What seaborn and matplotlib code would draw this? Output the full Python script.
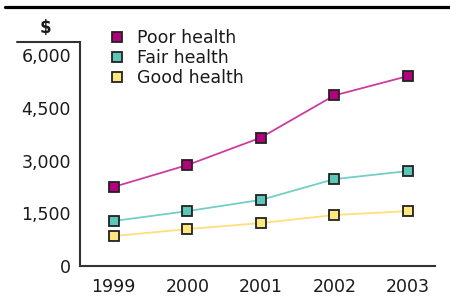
import pandas as pd
import matplotlib.pyplot as plt
import seaborn as sns
from matplotlib.lines import Line2D

# ============================
#   DATA
# ============================
years = [1999, 2000, 2001, 2002, 2003]
poor_health = [2250, 2870, 3650, 4850, 5400]
fair_health = [1280, 1560, 1880, 2470, 2700]
good_health = [850, 1050, 1220, 1450, 1560]

series_names = ["Poor health", "Fair health", "Good health"]
y_ticks = [0, 1500, 3000, 4500, 6000]
y_tick_labels = ["0", "1,500", "3,000", "4,500", "6,000"]

# marker face / line colour per series
face_colors = ["#b3007d", "#5cc6b8", "#ffe880"]
line_colors = ["#cc3d9e", "#72d0c6", "#ffdf7a"]

df = pd.DataFrame({
    "year": years * 3,
    "value": poor_health + fair_health + good_health,
    "series": sum([[n] * len(years) for n in series_names], []),
})

# ============================
#          FIGURE
# ============================
sns.set_style("white")
plt.rcParams["font.family"] = "sans-serif"
plt.rcParams["font.sans-serif"] = ["DejaVu Sans"]
FONT = "DejaVu Sans"

fig = plt.figure(figsize=(4.5, 3.05), dpi=100)
ax = fig.add_axes([80 / 450, 1 - 266 / 305, 355 / 450, 224 / 305])

for name, fc, lc in zip(series_names, face_colors, line_colors):
    sns.lineplot(
        data=df[df["series"] == name], x="year", y="value", ax=ax,
        color=lc, linewidth=1.3, marker="s", markersize=6.5,
        markerfacecolor=fc, markeredgecolor="#222222", markeredgewidth=1.3,
    )

ax.set_xlim(1998.54, 2003.37)
ax.set_ylim(0, 6370)
ax.set_xticks(years)
ax.set_xticklabels([str(y) for y in years], family=FONT)
ax.set_yticks(y_ticks)
ax.set_yticklabels(y_tick_labels, family=FONT)
ax.tick_params(axis="both", length=0, labelsize=12.5, colors="#1a1a1a")
ax.tick_params(axis="x", pad=8.5)
ax.tick_params(axis="y", pad=6.5)
ax.set_xlabel("")
ax.set_ylabel("")

for side in ["top", "right"]:
    ax.spines[side].set_visible(False)
for side in ["left", "bottom"]:
    ax.spines[side].set_color("#333333")
    ax.spines[side].set_linewidth(1.5)

# cap line above the y axis and the "$" unit label
fig.add_artist(Line2D([17 / 450, 80 / 450], [1 - 42 / 305, 1 - 42 / 305],
                      color="#333333", linewidth=1.5))
fig.text(45 / 450, 1 - 28 / 305, "$", ha="center", va="center", family=FONT,
         fontsize=12, fontweight="bold", color="#1a1a1a")

# thick rule across the top
fig.add_artist(Line2D([5 / 450, 1.0], [1 - 6.5 / 305, 1 - 6.5 / 305],
                      color="black", linewidth=2.3))

# legend with square markers only
handles = [
    Line2D([], [], linestyle="none", marker="s", markersize=7.5,
           markerfacecolor=fc, markeredgecolor="#222222", markeredgewidth=1.3)
    for fc in face_colors
]
leg = ax.legend(handles, series_names, loc="upper left",
                bbox_to_anchor=(110 / 450, 1 - 29 / 305), bbox_transform=fig.transFigure,
                frameon=False, prop={"family": FONT, "size": 12.5}, handlelength=0.8,
                handletextpad=0.75, labelspacing=0.12, borderpad=0, borderaxespad=0)
for t in leg.get_texts():
    t.set_color("#1a1a1a")

fig.savefig("out.png", dpi=100)
